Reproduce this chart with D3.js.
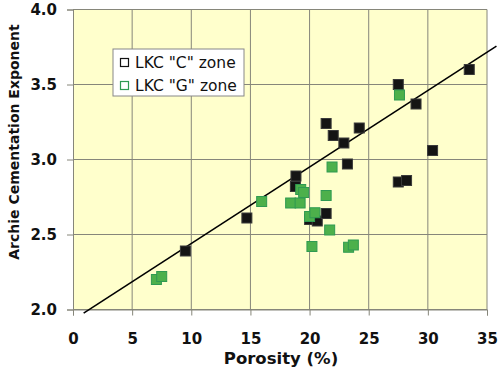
<!DOCTYPE html>
<html>
<head>
<meta charset="utf-8">
<script src="https://cdn.jsdelivr.net/npm/d3@7"></script>
<style>
  body { margin: 0; background: #fff; }
  text { font-family: "DejaVu Sans", sans-serif; }
</style>
</head>
<body>
<div id="container"></div>
<script>
// data
const cZoneX = [9.5, 14.7, 18.8, 18.85, 20.0, 20.65, 21.4, 21.4, 22.0, 22.9, 23.2, 24.2, 27.5, 27.5, 28.2, 29.0, 30.4, 33.5];
const cZoneY = [2.39, 2.61, 2.82, 2.89, 2.60, 2.59, 2.64, 3.24, 3.16, 3.11, 2.97, 3.21, 3.50, 2.85, 2.86, 3.37, 3.06, 3.60];
const gZoneX = [7.05, 7.5, 15.95, 18.4, 19.2, 19.25, 19.5, 20.0, 20.45, 20.2, 21.4, 21.7, 21.9, 23.3, 23.7, 27.6];
const gZoneY = [2.20, 2.22, 2.72, 2.71, 2.71, 2.80, 2.78, 2.62, 2.645, 2.42, 2.76, 2.53, 2.95, 2.415, 2.43, 3.43];
const trendX = [0.9, 35.8];
const trendY = [1.976, 3.756];
const xTicks = [0, 5, 10, 15, 20, 25, 30, 35];
const yTicks = [2.0, 2.5, 3.0, 3.5, 4.0];
const seriesNames = ['LKC "C" zone', 'LKC "G" zone'];

const w = 500, h = 370;
const m = { top: 9.5, right: 13, bottom: 60.5, left: 73 };

const svg = d3.select("#container").append("svg")
  .attr("width", w)
  .attr("height", h);

const x = d3.scaleLinear().domain([0, 35]).range([m.left, w - m.right]);
const y = d3.scaleLinear().domain([2, 4]).range([h - m.bottom, m.top]);

// plot background
svg.append("rect")
  .attr("x", x(0)).attr("y", y(4))
  .attr("width", x(35) - x(0)).attr("height", y(2) - y(4))
  .attr("fill", "#ffffcc");

// grid
svg.append("g").selectAll("line").data(xTicks.slice(1)).enter().append("line")
  .attr("x1", d => x(d)).attr("x2", d => x(d))
  .attr("y1", y(2)).attr("y2", y(4))
  .attr("stroke", "#86867a").attr("stroke-width", 1);
svg.append("g").selectAll("line").data(yTicks).enter().append("line")
  .attr("x1", x(0)).attr("x2", x(35))
  .attr("y1", d => y(d)).attr("y2", d => y(d))
  .attr("stroke", "#86867a").attr("stroke-width", 1);

// axes
const xAxis = svg.append("g")
  .attr("transform", `translate(0,${y(2)})`)
  .call(d3.axisBottom(x).tickValues(xTicks).tickSize(6).tickPadding(18).tickFormat(d3.format("d")));
const yAxis = svg.append("g")
  .attr("transform", `translate(${x(0)},0)`)
  .call(d3.axisLeft(y).tickValues(yTicks).tickSize(6).tickPadding(10).tickFormat(d3.format(".1f")));
[xAxis, yAxis].forEach(a => {
  a.select(".domain").attr("stroke", "#86867a");
  a.selectAll(".tick line").attr("stroke", "#86867a");
  a.selectAll("text")
    .attr("font-family", "DejaVu Sans, sans-serif")
    .attr("font-weight", "bold")
    .attr("font-size", 15)
    .attr("fill", "#111");
});

// axis titles
svg.append("text")
  .attr("x", 281).attr("y", 364)
  .attr("text-anchor", "middle")
  .attr("font-weight", "bold").attr("font-size", 16.5)
  .attr("fill", "#111")
  .text("Porosity (%)");
svg.append("text")
  .attr("transform", "translate(19,142) rotate(-90)")
  .attr("text-anchor", "middle")
  .attr("font-weight", "bold").attr("font-size", 14)
  .attr("fill", "#111")
  .text("Archie Cementation Exponent");

// trend line
svg.append("line")
  .attr("x1", x(trendX[0])).attr("y1", y(trendY[0]))
  .attr("x2", x(trendX[1])).attr("y2", y(trendY[1]))
  .attr("stroke", "#000").attr("stroke-width", 1.6);

// points
const sq = 10;
const cData = cZoneX.map((v, i) => [v, cZoneY[i]]);
const gData = gZoneX.map((v, i) => [v, gZoneY[i]]);

svg.append("g").selectAll("rect").data(cData).enter().append("rect")
  .attr("x", d => x(d[0]) - sq / 2).attr("y", d => y(d[1]) - sq / 2)
  .attr("width", sq).attr("height", sq)
  .attr("fill", "#141414").attr("stroke", "#3a3a3a").attr("stroke-width", 1);

svg.append("g").selectAll("rect").data(gData).enter().append("rect")
  .attr("x", d => x(d[0]) - sq / 2).attr("y", d => y(d[1]) - sq / 2)
  .attr("width", sq).attr("height", sq)
  .attr("fill", "#4db04b").attr("stroke", "#2f9a52").attr("stroke-width", 1);

// legend
const lg = svg.append("g").attr("transform", "translate(113,49)");
lg.append("rect")
  .attr("width", 131).attr("height", 47)
  .attr("fill", "#fff").attr("stroke", "#888").attr("stroke-width", 1);
const legendColors = ["#111", "#2f9a52"];
seriesNames.forEach((name, i) => {
  lg.append("rect")
    .attr("x", 7.5).attr("y", 9.5 + i * 23)
    .attr("width", 8).attr("height", 8)
    .attr("fill", "#fff").attr("stroke", legendColors[i]).attr("stroke-width", 1.2);
  lg.append("text")
    .attr("x", 22).attr("y", 19 + i * 23)
    .attr("font-size", 15.5).attr("fill", "#111")
    .text(name);
});
</script>
</body>
</html>
